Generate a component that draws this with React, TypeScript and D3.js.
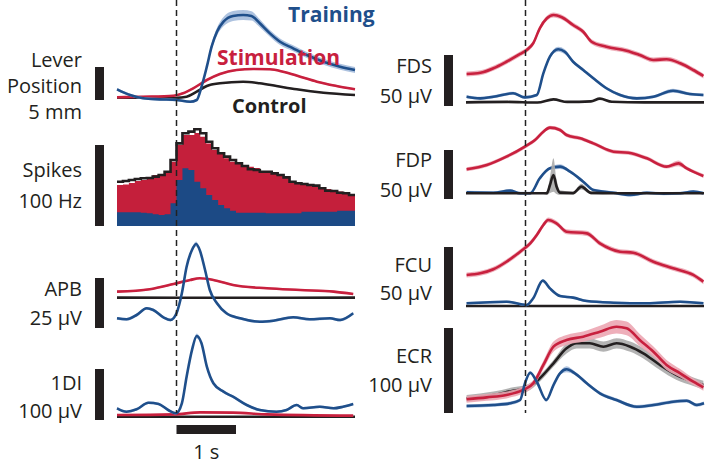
import React from 'react'
import * as d3 from 'd3'

// [time (s), value, optional SEM]
type Pt = [number, number, number?]

// Lever position (mm)
const leverTraining: Pt[] = [
  [-1.0, 1.62], [-0.78, 0.76], [-0.56, 0.26], [-0.28, 0.1], [0.0, 0], [0.23, -0.26], [0.34, 0.0],
  [0.42, 2.0, 0.25], [0.51, 5.05, 0.4], [0.59, 8.08, 0.5], [0.68, 10.35, 0.6], [0.79, 11.86, 0.7],
  [0.95, 12.73, 0.75], [1.12, 12.88, 0.75], [1.26, 12.73, 0.7], [1.4, 11.62, 0.6], [1.57, 10.1, 0.5],
  [1.74, 8.83, 0.5], [1.96, 7.83, 0.45], [2.19, 6.82, 0.45], [2.47, 5.8, 0.45], [2.75, 5.05, 0.45], [3.0, 4.55, 0.45]
]
const leverStimulation: Pt[] = [
  [-1.0, 0.41], [-0.56, 0.5], [-0.05, 0.65], [0.11, 1.02], [0.28, 1.77], [0.51, 3.03], [0.73, 3.94],
  [1.01, 4.55], [1.29, 4.7], [1.57, 4.65], [1.79, 4.29], [2.08, 3.53], [2.36, 2.77], [2.69, 2.12], [3.0, 1.62]
]
const leverControl: Pt[] = [
  [-1.0, 0.35], [0.0, 0.35], [0.17, 0.5], [0.34, 1.26], [0.51, 2.12], [0.73, 2.53], [1.12, 2.77],
  [1.4, 2.53], [1.68, 2.12], [2.02, 1.62], [2.47, 1.11], [3.0, 0.76]
]

// Spike rate histogram, 100 ms bins from -1 s (Hz)
const spikesStimulation = [
  50.6, 51.3, 53, 55.6, 56.8, 60.5, 63, 64.2, 65.5, 79.4,
  100, 112.4, 112.4, 114.9, 110.3, 102, 93.9, 89.8, 83.6, 79.4,
  77.8, 74, 73.2, 71.6, 68, 66.7, 64.2, 62.3, 60.5, 55.6,
  54.3, 53, 51.9, 49.4, 46.9, 45.7, 43.2, 42.6, 40.8, 39.5
]
const spikesTraining = [
  16.9, 16.9, 16.9, 16.9, 16.4, 15.6, 14.4, 13.6, 14.4, 28,
  56.8, 71.3, 69.2, 54.7, 46.6, 38.3, 32.1, 25.9, 21.9, 18.9,
  16.4, 16.4, 16.4, 16.4, 16.4, 15.6, 15.6, 15.6, 15.6, 15.6,
  15.6, 17.7, 17.7, 17.7, 17.7, 17.7, 17.7, 18.9, 18.9, 18.9
]
const spikesControl = [
  54.7, 55.6, 56.8, 58, 58.9, 59.3, 60.9, 63, 67, 81.5,
  102, 114.5, 116.5, 119.4, 114.5, 104, 96, 89.8, 85.6, 81.5,
  77.4, 74, 70, 69.2, 67, 67, 65, 63, 60, 54.7,
  52.7, 51.9, 50.6, 49.8, 46.6, 43.6, 43.2, 41.1, 40.4, 38.3
]

// APB (µV)
const apbTraining: Pt[] = [
  [-1.0, 4.85], [-0.84, 4.35], [-0.67, 6.5], [-0.5, 9.85], [-0.39, 9], [-0.22, 5.35], [-0.1, 4],
  [0.0, 7.35], [0.09, 17.35], [0.17, 30.65], [0.26, 39], [0.33, 42, 1.2], [0.39, 39], [0.48, 29], [0.56, 19],
  [0.68, 12.35], [0.84, 7.35], [1.07, 4.85], [1.4, 3.15], [1.63, 3.65], [1.96, 5.35], [2.24, 4.35],
  [2.58, 4.85], [2.75, 4], [2.97, 7.35]
]
const apbStimulation: Pt[] = [
  [-1.0, 18.2], [-0.45, 19.4], [-0.05, 22], [0.23, 24], [0.39, 24.85], [0.62, 24], [0.95, 21.5],
  [1.52, 19.85], [2.08, 19], [2.64, 18.2], [2.97, 17]
]
const apbControl: Pt[] = [[-1.0, 15.2], [1.0, 15.1], [3.0, 15.2]]

// 1DI (µV)
const fdiTraining: Pt[] = [
  [-1.0, 22.9], [-0.84, 16.3], [-0.67, 21], [-0.47, 33.9], [-0.3, 31.4], [-0.14, 19.6], [-0.01, 13.1],
  [0.09, 32.7], [0.17, 84.9], [0.26, 137], [0.34, 164.7, 5], [0.42, 150.4], [0.51, 104.5], [0.62, 72],
  [0.79, 55.5], [0.95, 45.7], [1.18, 29.4], [1.4, 19.6], [1.68, 16.3], [1.85, 19.6], [2.02, 29.4],
  [2.13, 22.9], [2.41, 26], [2.64, 22.9], [2.8, 26], [2.97, 31.4]
]
const fdiStimulation: Pt[] = [[-1.0, 9.8], [-0.04, 11.1], [0.4, 15], [0.95, 14.4], [1.52, 11.1], [2.97, 8.5]]
const fdiControl: Pt[] = [[-1.0, 6.5], [3.0, 6.5]]

// FDS (µV)
const fdsStimulation: Pt[] = [
  [-0.99, 31.4], [-0.76, 32.6], [-0.54, 37], [-0.32, 43.4], [-0.09, 51], [0.02, 54.9], [0.13, 61.5],
  [0.24, 76.2], [0.36, 86], [0.47, 89.2], [0.61, 87], [0.8, 79.4], [0.97, 72.8], [1.11, 63], [1.36, 58.1],
  [1.7, 54.2], [1.92, 50], [2.15, 45.1], [2.37, 45.8], [2.6, 41.9], [2.82, 35.3], [2.99, 29.4]
]
const fdsTraining: Pt[] = [
  [-0.99, 9.1], [-0.76, 7.5], [-0.54, 9.1], [-0.21, 12.5], [-0.01, 8.5], [0.19, 10.8], [0.3, 32],
  [0.41, 48.3], [0.55, 55.6, 2.5], [0.66, 53.2, 2.5], [0.8, 43.4], [0.97, 35.3], [1.14, 27.2], [1.36, 17.4],
  [1.59, 10.8], [1.87, 7.5], [2.15, 9.1], [2.48, 15, 2], [2.76, 11.8], [2.99, 10.8]
]
const fdsControl: Pt[] = [
  [-1.0, 3.6], [-0.3, 4.0], [0.2, 3.4], [0.47, 6.5], [0.7, 4.0], [1.1, 4.5], [1.25, 7.2], [1.45, 4.2],
  [2.0, 3.6], [3.0, 3.6]
]

// FDP (µV)
const fdpStimulation: Pt[] = [
  [-0.99, 30.3], [-0.65, 34.7], [-0.32, 43.2], [-0.01, 53.4], [0.16, 60.2], [0.3, 68.7], [0.41, 72.8],
  [0.58, 70.4], [0.69, 65.3], [0.92, 61.9], [1.14, 56.8], [1.48, 48.3], [1.73, 47.2], [2.04, 41.5],
  [2.37, 33], [2.57, 36.4, 3], [2.71, 31.3], [2.99, 23.5]
]
const fdpTraining: Pt[] = [
  [-0.99, 6.8], [-0.54, 6.4], [-0.26, 8.5], [-0.09, 5.8], [0.08, 5.8], [0.24, 21.1], [0.41, 31.3],
  [0.58, 33, 2.5], [0.75, 27.9], [0.97, 17.7], [1.14, 9.2], [1.48, 6.4], [1.76, 4.1], [2.04, 6.4],
  [2.32, 5.4], [2.6, 5.8], [2.82, 7.5], [2.99, 5.8]
]
const fdpControl: Pt[] = [
  [-1.0, 5.8], [0.3, 5.8], [0.36, 6, 2], [0.41, 14, 8], [0.47, 24.5, 17], [0.52, 13, 8], [0.58, 6.5, 2.5],
  [0.8, 6, 1.5], [0.94, 12.6, 3], [1.1, 6.2, 1.5], [1.5, 5.8], [3.0, 5.8]
]

// FCU (µV)
const fcuStimulation: Pt[] = [
  [-0.99, 27.8], [-0.76, 29.1], [-0.54, 32.3], [-0.32, 38.3], [-0.09, 46.3], [0.08, 52.9], [0.19, 59.5],
  [0.3, 67.5], [0.38, 71.4], [0.52, 68.8], [0.69, 62.1], [1.03, 60.8], [1.25, 52.9], [1.59, 46.3],
  [1.81, 45.5], [2.15, 38.3], [2.48, 33.1], [2.82, 27.8], [2.99, 22.5]
]
const fcuTraining: Pt[] = [
  [-0.99, 5.3], [-0.32, 6.6], [0.02, 4], [0.13, 9.3], [0.29, 23.3], [0.41, 17.2], [0.58, 11.1],
  [0.8, 9.8], [1.03, 7.1], [1.48, 5.8], [2.04, 5.3], [2.6, 6.6], [2.99, 5.3]
]
const fcuControl: Pt[] = [[-1.0, 3.2], [3.0, 3.2]]

// ECR (µV)
const ecrStimulation: Pt[] = [
  [-0.99, 16.1], [-0.65, 18.4], [-0.32, 21.2], [-0.04, 27.1], [0.13, 34.9], [0.3, 56.5, 5], [0.47, 78, 6],
  [0.69, 85.9, 6], [0.97, 89.8, 6], [1.25, 95.6, 7], [1.53, 101.5, 8], [1.7, 99.6, 8], [1.92, 85.9, 7],
  [2.15, 72.1, 6], [2.37, 56.5, 6], [2.6, 46.7, 5], [2.82, 36.8], [2.99, 30.2]
]
const ecrControl: Pt[] = [
  [-0.99, 17.3], [-0.54, 21.2], [-0.21, 26.2], [0.02, 29.1], [0.24, 40.8], [0.47, 58.5], [0.69, 76.1, 6],
  [0.86, 82, 6], [1.08, 82, 6], [1.31, 78, 6], [1.53, 82, 6], [1.76, 78, 6], [1.98, 70.2, 6], [2.26, 56.5, 6],
  [2.54, 44.7, 6], [2.82, 36.8, 5], [2.99, 32.9, 5]
]
const ecrTraining: Pt[] = [
  [-0.99, 8.2], [-0.54, 9.4], [-0.26, 11.4], [-0.09, 15.3], [-0.01, 34.9], [0.08, 47.4], [0.19, 36.8],
  [0.35, 15.3], [0.47, 32.9], [0.58, 46.7], [0.69, 51.4, 3.5], [0.83, 46.7], [1.03, 34.9], [1.25, 23.2],
  [1.53, 15.3], [1.87, 7.4], [2.15, 9.4], [2.48, 13.3], [2.71, 14.5], [2.88, 9.4], [3.0, 11.4]
]

const BLUE = '#1f4f8b'
const RED = '#c8203e'
const BLACK = '#231f20'
const BLUE_BAND = '#a4bbdc'
const RED_BAND = '#eca6b3'
const GRAY_BAND = '#ababab'
const FONT = "'Open Sans', sans-serif"

const xLeft = d3.scaleLinear().domain([-1, 3]).range([117, 355])
const xRight = d3.scaleLinear().domain([-1, 3]).range([466, 704])

const Trace = ({ x, y, pts, color, band, sem }) => {
  const line = d3.line<Pt>()
    .x(d => x(d[0]))
    .y(d => y(d[1]))
    .curve(d3.curveMonotoneX)
  const area = d3.area<Pt>()
    .x(d => x(d[0]))
    .y0(d => y(d[1] - (d[2] ?? sem)))
    .y1(d => y(d[1] + (d[2] ?? sem)))
    .curve(d3.curveMonotoneX)
  return (
    <g>
      <path d={area(pts)} fill={band} opacity={0.9} />
      <path d={line(pts)} fill="none" stroke={color} strokeWidth={2.6} strokeLinejoin="round" />
    </g>
  )
}

const Panel = ({ x, base, barValue, barPx, barX, labelX, labels, traces }) => {
  const y = d3.scaleLinear().domain([0, barValue]).range([base, base - barPx])
  const barTop = y(barValue)
  return (
    <g>
      <rect x={barX} y={barTop} width={9} height={y(0) - barTop} fill={BLACK} />
      {labels.map((l, i) => (
        <text key={i} x={labelX} y={l[1]} textAnchor="end" fontFamily={FONT} fontSize={20} fill={BLACK}>{l[0]}</text>
      ))}
      {traces.map((t, i) => (
        <Trace key={i} x={x} y={y} pts={t.pts} color={t.color} band={t.band} sem={t.sem} />
      ))}
    </g>
  )
}

const Spikes = () => {
  const x = xLeft
  const y = d3.scaleLinear().domain([0, 100]).range([226, 145])
  const binStart = spikesControl.map((_, i) => -1 + i * 0.1)
  const steps = (vals: number[]) => {
    const pts = binStart.map((t, i) => [t, vals[i]])
    pts.push([3, vals[vals.length - 1]])
    return pts
  }
  const area = d3.area().x(d => x(d[0])).y0(y(0)).y1(d => y(d[1])).curve(d3.curveStepAfter)
  const step = d3.line().x(d => x(d[0])).y(d => y(d[1])).curve(d3.curveStepAfter)
  return (
    <g>
      <rect x={95} y={y(100)} width={9} height={y(0) - y(100)} fill={BLACK} />
      <text x={82} y={177} textAnchor="end" fontFamily={FONT} fontSize={20} fill={BLACK}>Spikes</text>
      <text x={82} y={208} textAnchor="end" fontFamily={FONT} fontSize={20} fill={BLACK}>100 Hz</text>
      <path d={area(steps(spikesStimulation))} fill="#c41f3b" />
      <path d={area(steps(spikesTraining))} fill="#1c4a85" />
      <path d={step(steps(spikesControl))} fill="none" stroke={BLACK} strokeWidth={2.6} />
    </g>
  )
}

export default function App() {
  const left = [
    {
      base: 100, barValue: 5, barPx: 33,
      labels: [['Lever', 67], ['Position', 93], ['5 mm', 119]],
      traces: [
        { pts: leverControl, color: BLACK, band: GRAY_BAND, sem: 0.1 },
        { pts: leverStimulation, color: RED, band: RED_BAND, sem: 0.15 },
        { pts: leverTraining, color: BLUE, band: BLUE_BAND, sem: 0.2 }
      ]
    },
    {
      base: 328, barValue: 25, barPx: 50,
      labels: [['APB', 296], ['25 µV', 325]],
      traces: [
        { pts: apbControl, color: BLACK, band: GRAY_BAND, sem: 0.2 },
        { pts: apbStimulation, color: RED, band: RED_BAND, sem: 0.5 },
        { pts: apbTraining, color: BLUE, band: BLUE_BAND, sem: 0.7 }
      ]
    },
    {
      base: 420, barValue: 100, barPx: 51,
      labels: [['1DI', 390], ['100 µV', 418]],
      traces: [
        { pts: fdiControl, color: BLACK, band: GRAY_BAND, sem: 0.5 },
        { pts: fdiStimulation, color: RED, band: RED_BAND, sem: 1.5 },
        { pts: fdiTraining, color: BLUE, band: BLUE_BAND, sem: 2.5 }
      ]
    }
  ]
  const right = [
    {
      base: 106, barValue: 50, barPx: 51,
      labels: [['FDS', 73], ['50 µV', 103]],
      traces: [
        { pts: fdsControl, color: BLACK, band: GRAY_BAND, sem: 0.6 },
        { pts: fdsStimulation, color: RED, band: RED_BAND, sem: 2.5 },
        { pts: fdsTraining, color: BLUE, band: BLUE_BAND, sem: 1.5 }
      ]
    },
    {
      base: 199, barValue: 50, barPx: 49,
      labels: [['FDP', 167], ['50 µV', 197]],
      traces: [
        { pts: fdpStimulation, color: RED, band: RED_BAND, sem: 2 },
        { pts: fdpTraining, color: BLUE, band: BLUE_BAND, sem: 1.5 },
        { pts: fdpControl, color: BLACK, band: GRAY_BAND, sem: 0.8 }
      ]
    },
    {
      base: 310, barValue: 50, barPx: 63,
      labels: [['FCU', 272], ['50 µV', 300]],
      traces: [
        { pts: fcuControl, color: BLACK, band: GRAY_BAND, sem: 0.5 },
        { pts: fcuStimulation, color: RED, band: RED_BAND, sem: 2 },
        { pts: fcuTraining, color: BLUE, band: BLUE_BAND, sem: 1 }
      ]
    },
    {
      base: 413, barValue: 100, barPx: 85,
      labels: [['ECR', 363], ['100 µV', 392]],
      traces: [
        { pts: ecrControl, color: BLACK, band: GRAY_BAND, sem: 4 },
        { pts: ecrStimulation, color: RED, band: RED_BAND, sem: 4 },
        { pts: ecrTraining, color: BLUE, band: BLUE_BAND, sem: 2 }
      ]
    }
  ]

  return (
    <svg width={708} height={464} style={{ position: 'absolute', left: 0, top: 0, background: '#fff' }}>
      {left.map((p, i) => (
        <Panel key={'l' + i} x={xLeft} barX={95} labelX={82} {...p} />
      ))}
      <Spikes />
      {right.map((p, i) => (
        <Panel key={'r' + i} x={xRight} barX={444} labelX={432} {...p} />
      ))}

      <line x1={xLeft(0)} x2={xLeft(0)} y1={0} y2={413} stroke="#222" strokeWidth={1.5} strokeDasharray="6,4" />
      <line x1={xRight(0)} x2={xRight(0)} y1={0} y2={413} stroke="#222" strokeWidth={1.5} strokeDasharray="6,4" />

      <rect x={xLeft(0)} y={425} width={xLeft(1) - xLeft(0)} height={9} fill={BLACK} />
      <text x={xLeft(0.5)} y={459} textAnchor="middle" fontFamily={FONT} fontSize={20} fill={BLACK}>1 s</text>

      <text x={288} y={22} fontFamily={FONT} fontSize={21} fontWeight="bold" fill={BLUE}>Training</text>
      <text x={217} y={65} fontFamily={FONT} fontSize={21} fontWeight="bold" fill={RED}>Stimulation</text>
      <text x={232} y={113} fontFamily={FONT} fontSize={20} fontWeight="bold" fill={BLACK}>Control</text>
    </svg>
  )
}
